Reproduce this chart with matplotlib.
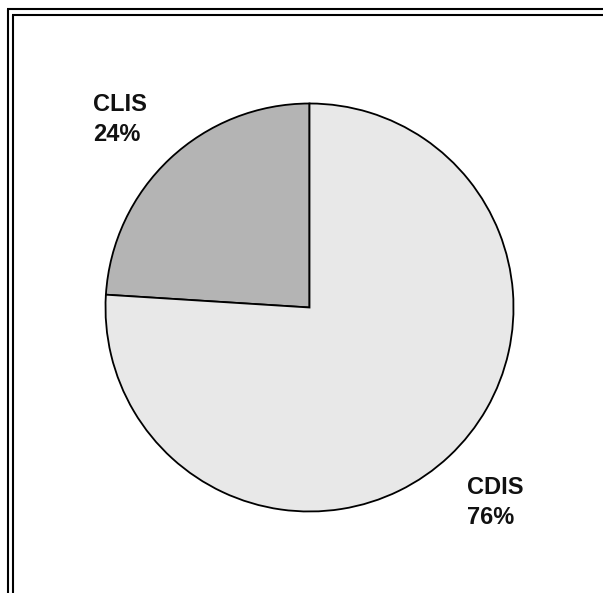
import matplotlib
matplotlib.use("Agg")
from matplotlib import pyplot as plt
from matplotlib.lines import Line2D

W, H = 603, 593

labels = ["CLIS", "CDIS"]
values = [24, 76]
colors = ["#b4b4b4", "#e8e8e8"]

# label anchor (left, baseline of first line) in pixel coords from the top
label_pos = [(93, 111), (467, 494)]

fig = plt.figure(figsize=(W / 100, H / 100), dpi=100)
ax = fig.add_axes([0, 0, 1, 1])

# pie centre / radius measured in pixels
cx, cy, r = 309.5, 307.5, 204
ax.pie(values, colors=colors, startangle=90, counterclock=True,
       center=(cx, H - cy), radius=r, frame=True,
       wedgeprops=dict(edgecolor="black", linewidth=1.3))
ax.set_xlim(0, W)
ax.set_ylim(0, H)
ax.set_aspect("equal")
ax.axis("off")

font = dict(family=["Liberation Sans", "DejaVu Sans"], fontweight="bold",
            fontsize=17, color="#111111")
for lab, val, (x, y) in zip(labels, values, label_pos):
    ax.text(x, H - y, lab, ha="left", va="baseline", **font)
    ax.text(x, H - y - 30, f"{val}%", ha="left", va="baseline", **font)

# double frame along top and left
def fline(x0, y0, x1, y1):
    fig.add_artist(Line2D([x0 / W, x1 / W], [1 - y0 / H, 1 - y1 / H],
                          transform=fig.transFigure, color="black",
                          linewidth=1.5, solid_capstyle="butt"))

fline(7.5, 9, 7.5, H)
fline(7, 9, W, 9)
fline(12.5, 15, 12.5, H)
fline(12, 15, W, 15)

fig.savefig("out.png", dpi=100, facecolor="white")
